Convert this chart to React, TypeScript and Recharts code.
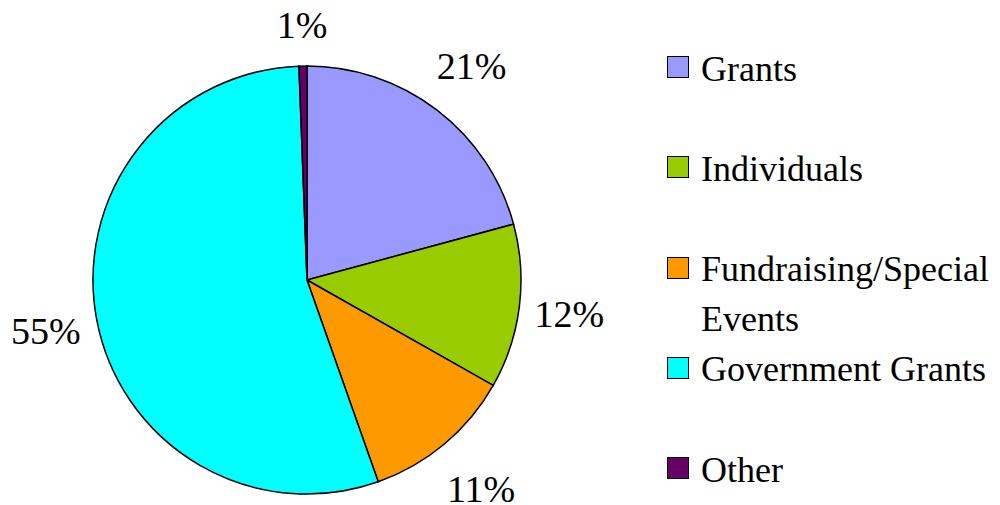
import { PieChart, Pie, Cell, Legend } from 'recharts';

const SOURCES = ['Grants', 'Individuals', 'Fundraising/Special Events', 'Government Grants', 'Other'];
const SHARES = [20.8, 12.4, 11.4, 54.8, 0.6];
const COLORS = ['#9999FF', '#99CC00', '#FF9900', '#00FFFF', '#660066'];

const RAD = Math.PI / 180;

const data = SOURCES.map((name, i) => ({ name, value: SHARES[i] }));

// Excel-style outside labels: push the text box out until its edge clears the pie
const renderLabel = (props: any) => {
  const { cx, cy, midAngle, outerRadius, percent } = props;
  const ux = Math.cos(-midAngle * RAD);
  const uy = Math.sin(-midAngle * RAD);
  const d = outerRadius + 11 + 36 * Math.abs(ux) + 30 * Math.abs(uy);
  return (
    <text
      x={cx + d * ux}
      y={cy + d * uy + 14}
      textAnchor="middle"
      fill="#000"
      fontFamily="Liberation Serif"
      fontSize={38}
    >
      {`${Math.round(percent * 100)}%`}
    </text>
  );
};

const SideLegend = () => (
  <div style={{ fontFamily: 'Liberation Serif', fontSize: 36, color: '#000' }}>
    {SOURCES.map((name, i) => (
      <div key={name} style={{ display: 'flex', alignItems: 'flex-start', height: 100.3 }}>
        <div
          style={{
            width: 20,
            height: 20,
            background: COLORS[i],
            border: '1.5px solid #000',
            flexShrink: 0,
          }}
        />
        <div style={{ marginLeft: 12, width: 300, lineHeight: '50px', marginTop: -12.5 }}>{name}</div>
      </div>
    ))}
  </div>
);

export default function App() {
  return (
    <div style={{ position: 'absolute', left: 0, top: 0, fontFamily: 'Liberation Serif' }}>
      <PieChart width={1000} height={505} margin={{ top: 0, right: 0, bottom: 0, left: 0 }}>
        <Pie
          data={data}
          dataKey="value"
          nameKey="name"
          cx={307}
          cy={280}
          outerRadius={214}
          startAngle={90}
          endAngle={-270}
          stroke="#000"
          strokeWidth={1.5}
          label={renderLabel}
          labelLine={false}
          isAnimationActive={false}
        >
          {data.map((d, i) => (
            <Cell key={d.name} fill={COLORS[i]} />
          ))}
        </Pie>
        <Legend
          content={() => <SideLegend />}
          wrapperStyle={{ position: 'absolute', left: 667, top: 56, width: 333, margin: 0 }}
        />
      </PieChart>
    </div>
  );
}
